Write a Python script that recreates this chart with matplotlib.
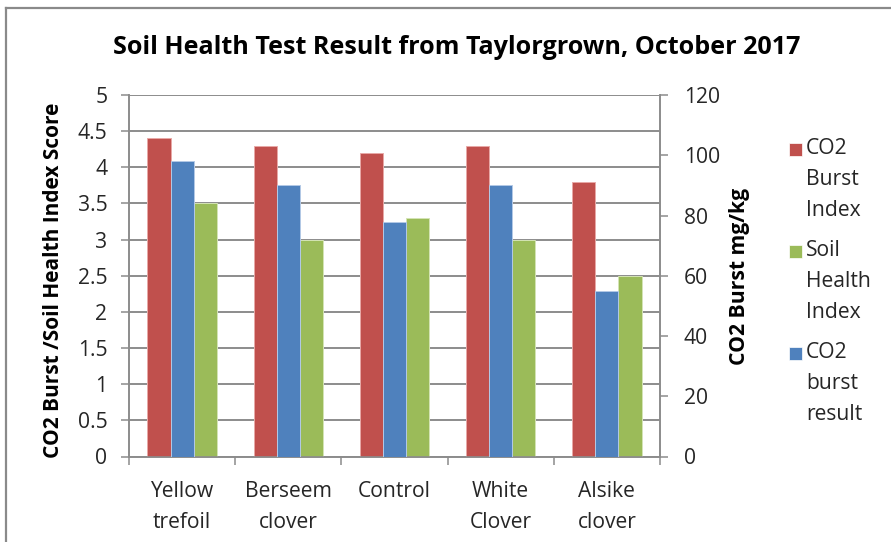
import matplotlib
matplotlib.use("Agg")
import matplotlib.pyplot as plt
from matplotlib.lines import Line2D
from matplotlib.patches import Rectangle
import numpy as np

plt.rcParams['font.family'] = ['Open Sans', 'DejaVu Sans']

categories = ["Yellow\ntrefoil", "Berseem\nclover", "Control", "White\nClover", "Alsike\nclover"]
co2_burst_index = [4.4, 4.3, 4.2, 4.3, 3.8]          # left axis
soil_health_index = [3.5, 3.0, 3.3, 3.0, 2.5]        # left axis
co2_burst_result = [98, 90, 78, 90, 55]              # right axis, mg/kg

left_ticks = [0, 0.5, 1, 1.5, 2, 2.5, 3, 3.5, 4, 4.5, 5]
left_ticklabels = ["0", "0.5", "1", "1.5", "2", "2.5", "3", "3.5", "4", "4.5", "5"]
right_ticks = [0, 20, 40, 60, 80, 100, 120]

RED = "#C0504D"
BLUE = "#4F81BD"
GREEN = "#9BBB59"
GRID = "#8C8C8C"
TXT = "#262626"
FS = 15.2

W, H = 891, 542
fig = plt.figure(figsize=(W / 100, H / 100), dpi=100)

ax = fig.add_axes([129 / W, 1 - 456.5 / H, (660 - 129) / W, (456.5 - 95) / H])
ax2 = ax.twinx()

x = np.arange(len(categories)) + 0.5
bw = 0.218

ax.bar(x - bw, co2_burst_index, width=bw, color=RED, edgecolor="#E8A9A7", linewidth=0.7, zorder=3)
ax.bar(x + bw, soil_health_index, width=bw, color=GREEN, edgecolor="#D4E4B5", linewidth=0.7, zorder=3)
ax2.bar(x, co2_burst_result, width=bw, color=BLUE, edgecolor="#B3C9E6", linewidth=0.7, zorder=3)

ax.set_xlim(0, len(categories))
ax.set_ylim(0, 5)
ax2.set_ylim(0, 120)

# left axis and gridlines
ax.set_yticks(left_ticks)
ax.set_yticklabels(left_ticklabels)
ax.yaxis.grid(True, color=GRID, linewidth=1.4)
ax.set_axisbelow(True)
ax.tick_params(axis="y", length=5.5, width=1.1, color=GRID, pad=10, labelsize=FS, labelcolor=TXT)

# category axis: ticks between groups, labels centred on groups
ax.set_xticks(np.arange(len(categories) + 1))
ax.set_xticklabels([])
ax.set_xticks(x, minor=True)
ax.set_xticklabels(categories, minor=True, fontsize=FS, color=TXT, linespacing=1.62)
ax.tick_params(axis="x", which="major", length=6, width=1.1, color=GRID)
ax.tick_params(axis="x", which="minor", length=0, pad=17.5)

# right axis
ax2.set_yticks(right_ticks)
ax2.tick_params(axis="y", length=6, width=1.1, color=GRID, pad=11, labelsize=FS, labelcolor=TXT)

for a in (ax, ax2):
    a.spines["top"].set_visible(False)
    for side in ("left", "right", "bottom"):
        a.spines[side].set_color(GRID)
        a.spines[side].set_linewidth(1.2)

# titles and axis labels
fig.text(457 / W, 1 - 47 / H, "Soil Health Test Result from Taylorgrown, October 2017",
         ha="center", va="center", fontsize=18.1, fontweight="bold", color="black")
fig.text(54 / W, 1 - 280 / H, "CO2 Burst /Soil Health Index Score", rotation=90,
         ha="center", va="center", fontsize=15, fontweight="bold", color="black")
fig.text(740 / W, 1 - 276 / H, "CO2 Burst mg/kg", rotation=90,
         ha="center", va="center", fontsize=15.2, fontweight="bold", color="black")

# legend
legend_items = [("CO2\nBurst\nIndex", RED, 143), ("Soil\nHealth\nIndex", GREEN, 245),
                ("CO2\nburst\nresult", BLUE, 347)]
for label, col, ytop in legend_items:
    fig.patches.append(Rectangle((789 / W, 1 - (ytop + 13) / H), 13 / W, 13 / H,
                                 transform=fig.transFigure, facecolor=col,
                                 edgecolor="white", linewidth=0.5))
    fig.text(806 / W, 1 - (ytop - 5) / H, label, ha="left", va="top",
             fontsize=FS, color=TXT, linespacing=1.62)

# chart area border
fig.add_artist(Line2D([6 / W, 6 / W], [0, 1 - 8 / H], transform=fig.transFigure,
                      color="#8A8A8A", linewidth=1.6))
fig.add_artist(Line2D([6 / W, 1], [1 - 8 / H, 1 - 8 / H], transform=fig.transFigure,
                      color="#8A8A8A", linewidth=1.6))

fig.savefig("out.png", dpi=100)
